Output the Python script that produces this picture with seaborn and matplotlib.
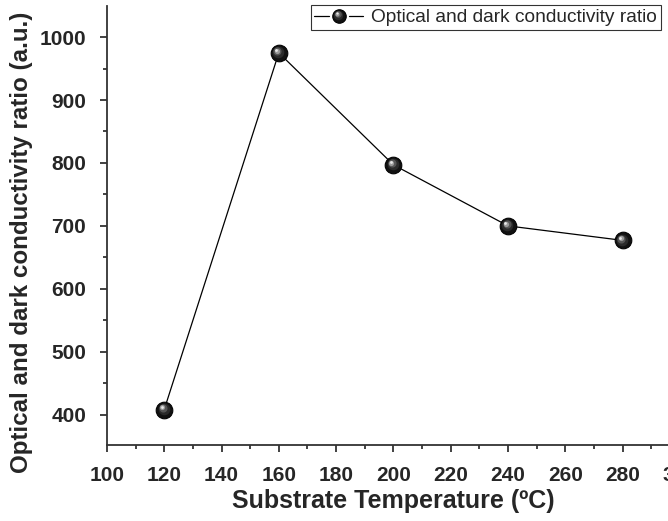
import matplotlib
matplotlib.use("Agg")
import matplotlib.pyplot as plt
from matplotlib.transforms import offset_copy
from matplotlib.ticker import MultipleLocator
from matplotlib.legend_handler import HandlerBase
from matplotlib.lines import Line2D
import seaborn as sns
import pandas as pd

# Substrate temperature (ºC) and the optical/dark conductivity ratio
temperature = [120, 160, 200, 240, 280]
ratio = [408, 975, 797, 700, 677]
series_name = "Optical and dark conductivity ratio"

df = pd.DataFrame({"temperature": temperature, "ratio": ratio})

sns.set_theme(style="ticks")
plt.rcParams["font.family"] = ["Liberation Sans", "DejaVu Sans"]

fig = plt.figure(figsize=(6.68, 5.21), dpi=100)
ax = fig.add_axes([0.160, 0.146, 0.858, 0.842])

sns.lineplot(data=df, x="temperature", y="ratio", ax=ax, color="black",
             linewidth=0.9, marker="o", markersize=12,
             markeredgecolor="black", markerfacecolor="#111111",
             label=series_name, legend=False)

# Layers of shading that make each marker look like a glossy ball
# (marker area in pt^2, colour, offset in pixels)
gloss = [(70, "#2a2a2a", -0.6, 0.6), (34, "#555555", -1.5, 1.5),
         (14, "#9a9a9a", -2.2, 2.2), (4, "#e8e8e8", -2.6, 2.6)]
for size, col, dx, dy in gloss:
    tr = offset_copy(ax.transData, fig=fig, x=dx, y=dy, units="dots")
    ax.scatter(temperature, ratio, s=size, color=col, linewidths=0,
               transform=tr, zorder=5)


class GlossyHandler(HandlerBase):
    """Legend handle: a shaded ball with a short line on each side."""

    def __init__(self, ball=9.7, gap=2.2, **kw):
        super().__init__(**kw)
        self.ball = ball
        self.gap = gap

    def create_artists(self, legend, orig_handle, xdescent, ydescent,
                       width, height, fontsize, trans):
        x0, x1 = -xdescent, -xdescent + width
        cx = (x0 + x1) / 2
        cy = (height - ydescent) / 2
        r = self.ball / 2
        artists = []
        for xa, xb in [(x0, cx - r - self.gap), (cx + r + self.gap, x1)]:
            seg = Line2D([xa, xb], [cy, cy], color="black", linewidth=0.9)
            seg.set_transform(trans)
            artists.append(seg)
        k = self.ball / 12
        ball = Line2D([cx], [cy], linestyle="none", marker="o",
                      markersize=self.ball, markerfacecolor="#111111",
                      markeredgecolor="black", markeredgewidth=0.8)
        ball.set_transform(trans)
        artists.append(ball)
        for size, col, dx, dy in gloss:
            m = Line2D([cx + dx * 0.72 * k], [cy + dy * 0.72 * k],
                       linestyle="none", marker="o",
                       markersize=(size ** 0.5) * k, markerfacecolor=col,
                       markeredgewidth=0)
            m.set_transform(trans)
            artists.append(m)
        return artists


ax.set_xlim(100, 300)
ax.set_ylim(352, 1049)
ax.xaxis.set_major_locator(MultipleLocator(20))
ax.xaxis.set_minor_locator(MultipleLocator(10))
ax.yaxis.set_minor_locator(MultipleLocator(50))
ax.set_yticks([400, 500, 600, 700, 800, 900, 1000])

spine_col = "#333333"
for side in ["top", "right"]:
    ax.spines[side].set_visible(False)
for side in ["left", "bottom"]:
    ax.spines[side].set_color(spine_col)
    ax.spines[side].set_linewidth(1.3)

ax.tick_params(which="major", direction="out", length=5, width=1.3,
               color=spine_col, labelsize=15, pad=10)
ax.tick_params(which="minor", direction="out", length=3, width=1.3,
               color=spine_col)
for lbl in ax.get_xticklabels() + ax.get_yticklabels():
    lbl.set_fontweight("bold")

ax.set_xlabel("Substrate Temperature (ºC)", fontsize=18, fontweight="bold",
              labelpad=3)
ax.set_ylabel("Optical and dark conductivity ratio (a.u.)", fontsize=17.4,
              fontweight="bold")
ax.yaxis.set_label_coords(-0.129, 0.463)

handle = ax.get_lines()[0]
leg = fig.legend([handle], [series_name], loc="upper right",
                 bbox_to_anchor=(661 / 668, 1 - 5 / 521),
                 bbox_transform=fig.transFigure, fontsize=13.8,
                 frameon=True, fancybox=False, handlelength=2.55,
                 handletextpad=0.42, borderpad=0.2, borderaxespad=0,
                 handler_map={Line2D: GlossyHandler()})
leg.get_frame().set_edgecolor("black")
leg.get_frame().set_linewidth(0.8)

fig.savefig("out.png", dpi=100)
